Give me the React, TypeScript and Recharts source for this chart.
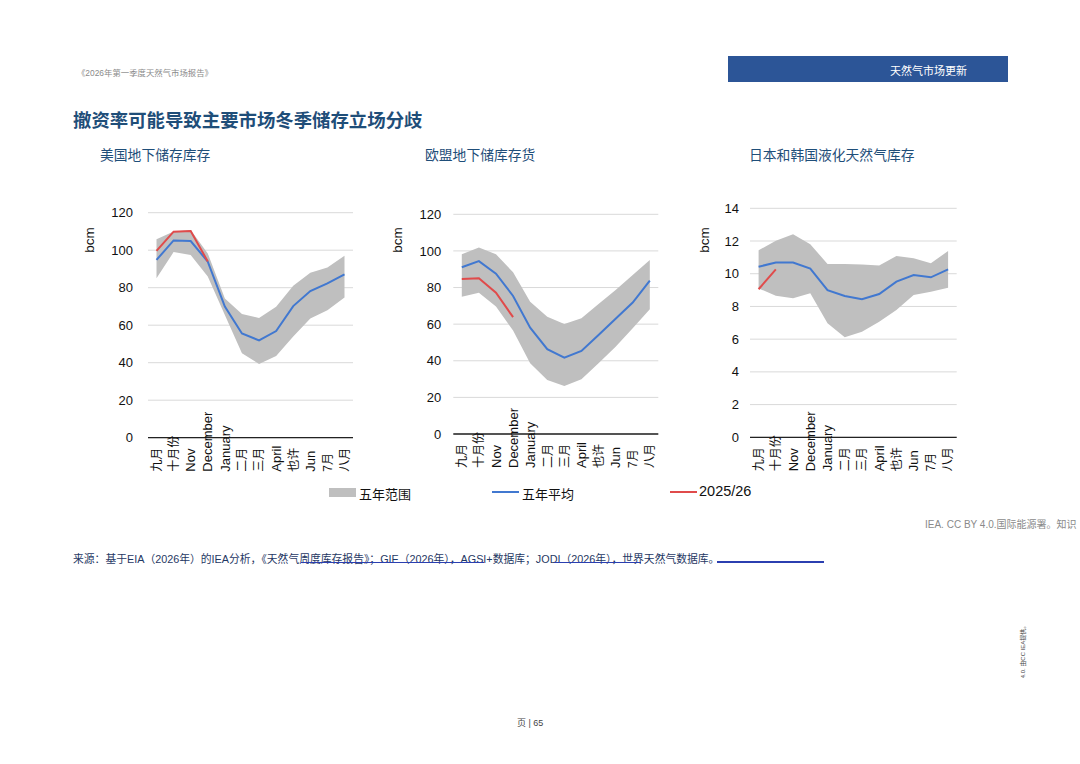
import React from 'react';
import {
  ComposedChart,
  Area,
  Line,
  XAxis,
  YAxis,
  CartesianGrid,
} from 'recharts';

// month labels as printed on the page (mixed languages kept as-is)
const months = ['九月', '十月份', 'Nov', 'December', 'January', '二月', '三月', 'April', '也许', 'Jun', '7月', '八月'];

// US underground storage (bcm)
const usLow = [85, 99, 97.4, 86, 65.4, 45, 39.3, 43.6, 54, 63.6, 68, 74.8];
const usHigh = [105.8, 110, 110.8, 98.3, 74.3, 66, 63.8, 69.9, 81, 88, 90.8, 97];
const usAvg = [94.8, 105.2, 104.9, 93.9, 69.9, 55.6, 51.9, 56.9, 70.2, 78.2, 82.3, 87.1];
const usCur = [99.6, 109.9, 110.2, 94];

// EU underground storage (bcm)
const euLow = [74.9, 77.2, 69.6, 56.5, 38.6, 29.5, 26.2, 29.9, 38.6, 47.7, 57.7, 68.1];
const euHigh = [98.2, 101.8, 98.2, 88.3, 72.3, 64.1, 60.1, 63.2, 71, 78.7, 86.9, 95.1];
const euAvg = [91.1, 94.4, 87.6, 75.4, 58.1, 46.3, 41.7, 45.4, 54.1, 63, 71.8, 83.8];
const euCur = [84.7, 85.1, 77.2, 63.8];

// Japan + Korea LNG stocks (bcm)
const jkLow = [9.1, 8.66, 8.5, 8.8, 6.97, 6.11, 6.46, 7.07, 7.78, 8.7, 8.9, 9.15];
const jkHigh = [11.43, 12.02, 12.41, 11.8, 10.6, 10.6, 10.56, 10.5, 11.09, 10.94, 10.64, 11.39];
const jkAvg = [10.43, 10.68, 10.68, 10.31, 9.0, 8.64, 8.44, 8.76, 9.52, 9.92, 9.78, 10.27];
const jkCur = [9.05, 10.27];

const usTicks = [0, 20, 40, 60, 80, 100, 120];
const euTicks = [0, 20, 40, 60, 80, 100, 120];
const jkTicks = [0, 2, 4, 6, 8, 10, 12, 14];

const FONT = "'Liberation Sans', Arial, 'Noto Sans CJK SC', sans-serif";
const NAVY = '#1f4e79';
const GREY = '#bfbfbf';
const BLUE = '#4178d0';
const RED = '#e04b4b';

const buildRows = (low: number[], high: number[], avg: number[], cur: number[]) =>
  months.map((m, i) => ({
    month: m,
    range: [low[i], high[i]],
    avg: avg[i],
    cur: i < cur.length ? cur[i] : null,
  }));

const MonthTick = (props: any) => {
  const { x, y, payload } = props;
  const ty = y + 34;
  const isCjk = /[\u4e00-\u9fff]/.test(payload.value);
  return (
    <text
      x={x}
      y={ty}
      dy="0.36em"
      transform={`rotate(-90, ${x}, ${ty})`}
      textAnchor="start"
      fontSize={isCjk ? 12 : 13}
      fontFamily={FONT}
      fill="#111"
    >
      {payload.value}
    </text>
  );
};

interface PanelProps {
  left: number;
  top: number;
  rows: any[];
  ticks: number[];
  yWidth: number;
  margin: { top: number; right: number; bottom: number; left: number };
  tickMargin: number;
  bcmX: number;
  halfBand: number;
}

const Panel: React.FC<PanelProps> = ({ left, top, rows, ticks, yWidth, margin, tickMargin, bcmX, halfBand }) => (
  <div style={{ position: 'absolute', left, top, width: 290, height: 300 }}>
    <ComposedChart width={290} height={300} data={rows} margin={margin}>
      <CartesianGrid vertical={false} stroke="#d9d9d9" />
      <XAxis
        dataKey="month"
        interval={0}
        tickLine={false}
        tickSize={0}
        tickMargin={0}
        height={40}
        padding={{ left: halfBand, right: halfBand }}
        axisLine={{ stroke: '#222', strokeWidth: 1.3 }}
        tick={<MonthTick />}
      />
      <YAxis
        width={yWidth}
        domain={[ticks[0], ticks[ticks.length - 1]]}
        ticks={ticks}
        axisLine={false}
        tickLine={false}
        tickMargin={tickMargin}
        tick={{ fontSize: 13, fill: '#111', fontFamily: FONT }}
      />
      <Area dataKey="range" stroke="none" fill={GREY} fillOpacity={1} isAnimationActive={false} />
      <Line dataKey="avg" stroke={BLUE} strokeWidth={2} dot={false} isAnimationActive={false} />
      <Line dataKey="cur" stroke={RED} strokeWidth={2} dot={false} connectNulls={false} isAnimationActive={false} />
    </ComposedChart>
    <div
      style={{
        position: 'absolute',
        left: bcmX - 20,
        top: 40,
        width: 40,
        height: 20,
        lineHeight: '20px',
        textAlign: 'center',
        transform: 'rotate(-90deg)',
        fontSize: 13.5,
        fontFamily: FONT,
        color: '#111',
      }}
    >
      bcm
    </div>
  </div>
);

const App: React.FC = () => {
  const usRows = buildRows(usLow, usHigh, usAvg, usCur);
  const euRows = buildRows(euLow, euHigh, euAvg, euCur);
  const jkRows = buildRows(jkLow, jkHigh, jkAvg, jkCur);

  return (
    <div
      style={{
        position: 'absolute',
        left: 0,
        top: 0,
        width: 1080,
        height: 764,
        background: '#fff',
        overflow: 'hidden',
        fontFamily: FONT,
      }}
    >
      {/* header */}
      <div style={{ position: 'absolute', left: 77, top: 66, fontSize: 8.4, color: '#8a8a8a' }}>
        《2026年第一季度天然气市场报告》
      </div>
      <div
        style={{
          position: 'absolute',
          left: 728,
          top: 56,
          width: 280,
          height: 26,
          background: '#2c5597',
          color: '#fff',
          fontSize: 11,
        }}
      >
        <span style={{ position: 'absolute', left: 162, top: 6 }}>天然气市场更新</span>
      </div>

      {/* title */}
      <div style={{ position: 'absolute', left: 73, top: 106, fontSize: 18.4, fontWeight: 'bold', color: NAVY }}>
        撤资率可能导致主要市场冬季储存立场分歧
      </div>

      {/* panel subtitles */}
      <div style={{ position: 'absolute', left: 100, top: 144, fontSize: 13.8, color: NAVY }}>美国地下储存库存</div>
      <div style={{ position: 'absolute', left: 425, top: 144, fontSize: 13.8, color: NAVY }}>欧盟地下储库存货</div>
      <div style={{ position: 'absolute', left: 749, top: 144, fontSize: 13.8, color: NAVY }}>日本和韩国液化天然气库存</div>

      <Panel
        left={80}
        top={190}
        rows={usRows}
        ticks={usTicks}
        yWidth={68}
        margin={{ top: 22.7, right: 17, bottom: 12.3, left: 0 }}
        tickMargin={9}
        bcmX={10}
        halfBand={8.5}
      />
      <Panel
        left={390}
        top={190}
        rows={euRows}
        ticks={euTicks}
        yWidth={63.3}
        margin={{ top: 24.3, right: 21.7, bottom: 16, left: 0 }}
        tickMargin={6}
        bcmX={8}
        halfBand={8.5}
      />
      <Panel
        left={690}
        top={190}
        rows={jkRows}
        ticks={jkTicks}
        yWidth={60}
        margin={{ top: 18.3, right: 23.3, bottom: 12.7, left: 0 }}
        tickMargin={5}
        bcmX={15}
        halfBand={8.6}
      />

      {/* legend */}
      <div style={{ position: 'absolute', left: 329, top: 488, width: 27, height: 9, background: GREY }} />
      <div style={{ position: 'absolute', left: 359, top: 484, fontSize: 13, color: '#111' }}>五年范围</div>
      <div style={{ position: 'absolute', left: 492, top: 491, width: 27, height: 2, background: BLUE }} />
      <div style={{ position: 'absolute', left: 522, top: 484, fontSize: 13, color: '#111' }}>五年平均</div>
      <div style={{ position: 'absolute', left: 670, top: 491, width: 27, height: 2, background: RED }} />
      <div style={{ position: 'absolute', left: 699, top: 483, fontSize: 14.5, color: '#111' }}>2025/26</div>

      {/* credit */}
      <div style={{ position: 'absolute', left: 925, top: 516, fontSize: 10, color: '#8a8a8a', whiteSpace: 'nowrap' }}>
        IEA. CC BY 4.0.国际能源署。知识
      </div>

      {/* source */}
      <div
        style={{
          position: 'absolute',
          left: 73,
          top: 550,
          fontSize: 10.8,
          color: '#1f3864',
          whiteSpace: 'nowrap',
        }}
      >
        来源：基于EIA（2026年）的IEA分析，《天然气周度库存报告》；GIE（2026年），AGSI+数据库；JODI（2026年），世界天然气数据库。
      </div>
      <div style={{ position: 'absolute', left: 301, top: 562, width: 183, height: 1, background: '#2b3fb0' }} />
      <div style={{ position: 'absolute', left: 554, top: 562, width: 87, height: 1, background: '#2b3fb0' }} />
      <div style={{ position: 'absolute', left: 717, top: 561, width: 107, height: 1.5, background: '#2b3fb0' }} />

      {/* side note */}
      <div
        style={{
          position: 'absolute',
          left: 990,
          top: 646,
          width: 64,
          textAlign: 'center',
          fontSize: 6,
          color: '#444',
          transform: 'rotate(-90deg)',
          whiteSpace: 'nowrap',
        }}
      >
        4.0. 由CC IEA提供。
      </div>

      {/* footer */}
      <div style={{ position: 'absolute', left: 517, top: 716, fontSize: 9, color: '#444' }}>页 | 65</div>
    </div>
  );
};

export default App;
